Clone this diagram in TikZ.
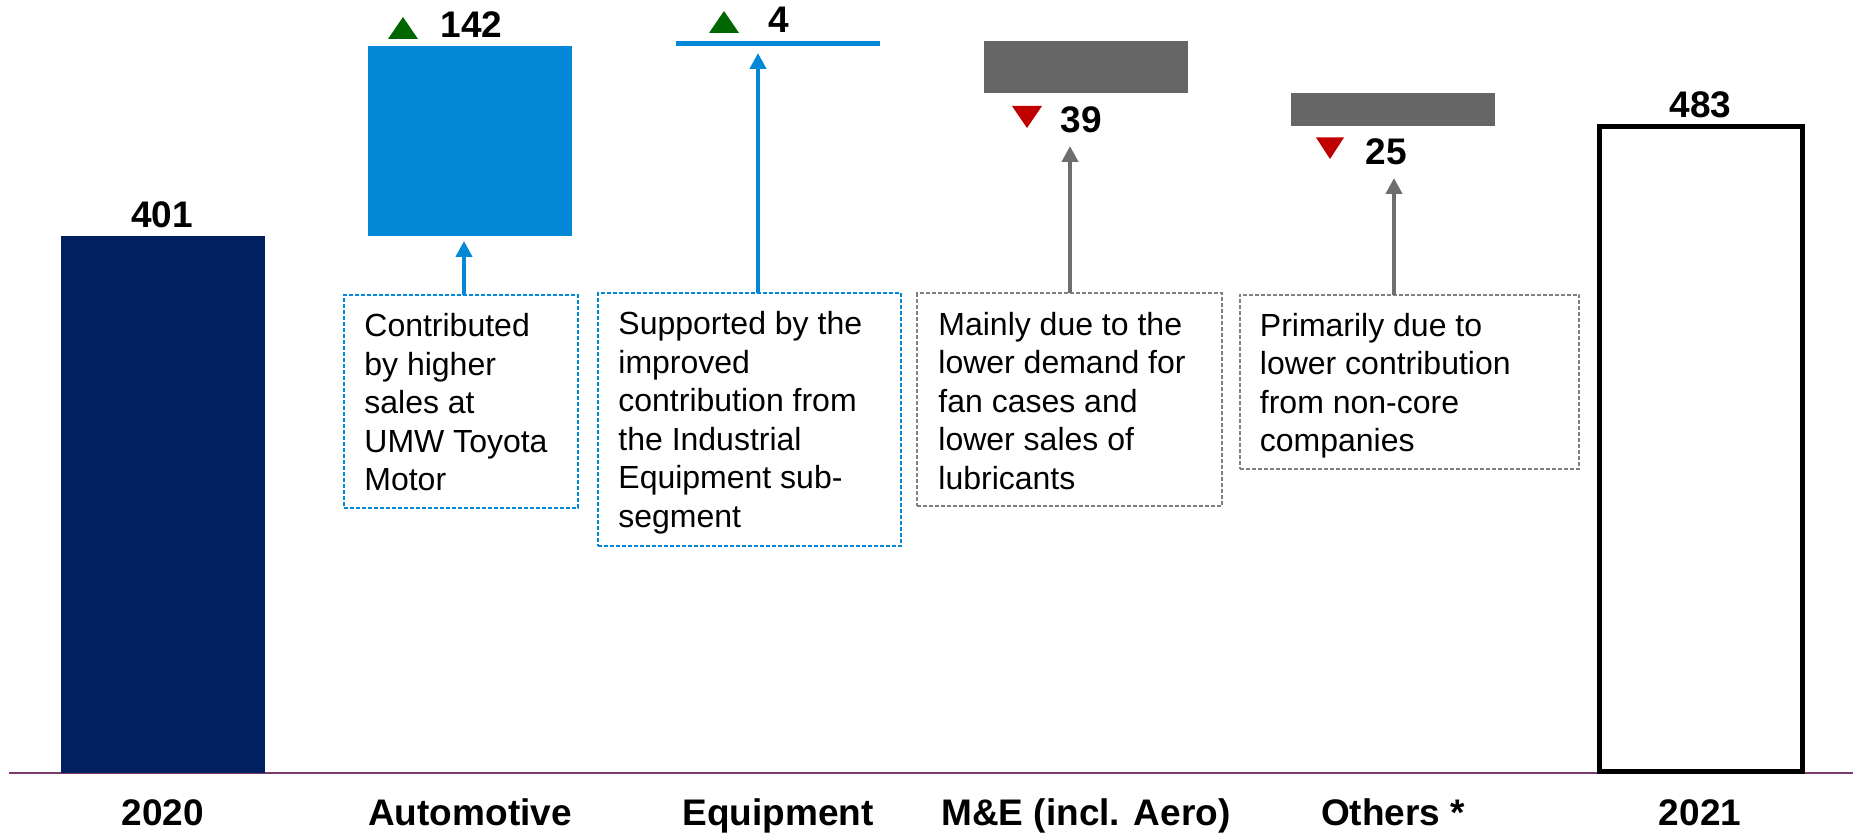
\documentclass[tikz,border=0pt]{standalone}
\usepackage{fontspec}
\setmainfont{Liberation Sans}
\usetikzlibrary{arrows.meta,fit}
\definecolor{navy}{HTML}{002060}
\definecolor{barblue}{HTML}{0288D7}
\definecolor{bargray}{HTML}{666666}
\definecolor{upgreen}{HTML}{006600}
\definecolor{downred}{HTML}{C00000}
\definecolor{arrgray}{HTML}{6E6E6E}
\definecolor{boxgray}{HTML}{808080}
\definecolor{axiscol}{HTML}{7A3A6A}
\begin{document}
\begin{tikzpicture}[x=0.5pt,y=-0.5pt,
  barbox/.style={inner sep=0pt, outer sep=0pt, draw=none},
  notebox/.style={inner sep=0pt, outer sep=0pt, draw=#1, line width=1pt, dash pattern=on 2pt off 1pt},
  notetext/.style={inner sep=0pt, anchor=north west, align=left, font=\fontsize{16}{19.3}\selectfont},
  vallabel/.style={inner sep=0pt, anchor=base, font=\fontsize{18.5}{22}\selectfont\bfseries},
  catlabel/.style={inner sep=0pt, anchor=base, font=\fontsize{18.5}{22}\selectfont\bfseries},
  callout/.style={line width=2pt, -{Triangle[length=8pt,width=8pt]}}]
\useasboundingbox (0,0) rectangle (1853,833);
% axis
\coordinate (axL) at (9,773);
\coordinate (axR) at (1853,773);
\draw[axiscol, line width=0.8pt] (axL) -- (axR);
% bars
\node[barbox, fill=navy, fit={(61,236)(265,773)}] (b2020) {};
\node[barbox, fill=barblue, fit={(368,46)(572,236)}] (bauto) {};
\node[barbox, fill=barblue, fit={(676,40.6)(880,46)}] (bequip) {};
\node[barbox, fill=bargray, fit={(984,40.6)(1188,93)}] (bme) {};
\node[barbox, fill=bargray, fit={(1291,93)(1495,126)}] (bother) {};
\node[inner sep=0pt, outer sep=0pt, draw=black, line width=2.75pt, fit={(1599.25,126.75)(1802.25,771.5)}] (b2021) {};
% value labels
\node[vallabel] (v2020) at (162,228) {401};
\node[vallabel] (vauto) at (471.5,37.5) {142};
\node[vallabel] (vequip) at (779,33) {4};
\node[vallabel] (vme) at (1081,133) {39};
\node[vallabel] (vother) at (1386,165) {25};
\node[vallabel] (v2021) at (1700.5,118) {483};
% triangles
\fill[upgreen] (388,39) -- (418,39) -- (403,17) -- cycle;
\fill[upgreen] (709,33) -- (739,33) -- (724,11) -- cycle;
\fill[downred] (1012,106) -- (1042,106) -- (1027,128) -- cycle;
\fill[downred] (1316,137.5) -- (1344,137.5) -- (1330,159) -- cycle;
% note boxes
\node[notebox=barblue, fit={(344,295)(578,508)}] (nauto) {};
\node[notetext] (tauto) at (364,313) {Contributed\\by higher\\sales at\\UMW Toyota\\Motor};
\node[notebox=barblue, fit={(598,293)(901,546)}] (nequip) {};
\node[notetext] (tequip) at (618,311) {Supported by the\\improved\\contribution from\\the Industrial\\Equipment sub-\\segment};
\node[notebox=boxgray, fit={(917,293.5)(1222,506)}] (nme) {};
\node[notetext] (tme) at (938,311.5) {Mainly due to the\\lower demand for\\fan cases and\\lower sales of\\lubricants};
\node[notebox=boxgray, fit={(1239.5,294.6)(1579,469)}] (nother) {};
\node[notetext] (tother) at (1259.5,312.6) {Primarily due to\\lower contribution\\from non-core\\companies};
% callout arrows
\coordinate (aauto) at (464,241);
\coordinate (aequip) at (758,53);
\coordinate (ame) at (1070,146);
\coordinate (aother) at (1394,178);
\draw[callout, barblue] (nauto.north -| aauto) -- (aauto);
\draw[callout, barblue] (nequip.north -| aequip) -- (aequip);
\draw[callout, arrgray] (nme.north -| ame) -- (ame);
\draw[callout, arrgray] (nother.north -| aother) -- (aother);
% category labels
\node[catlabel] (c2020) at (163,825) {2020};
\node[catlabel] (cauto) at (470,825) {Automotive};
\node[catlabel] (cequip) at (778,825) {Equipment};
\node[catlabel] (cme) at (1086,825) {M\&E (incl. Aero)};
\node[catlabel] (cother) at (1393,825) {Others *};
\node[catlabel] (c2021) at (1700,825) {2021};
\end{tikzpicture}
\end{document}
